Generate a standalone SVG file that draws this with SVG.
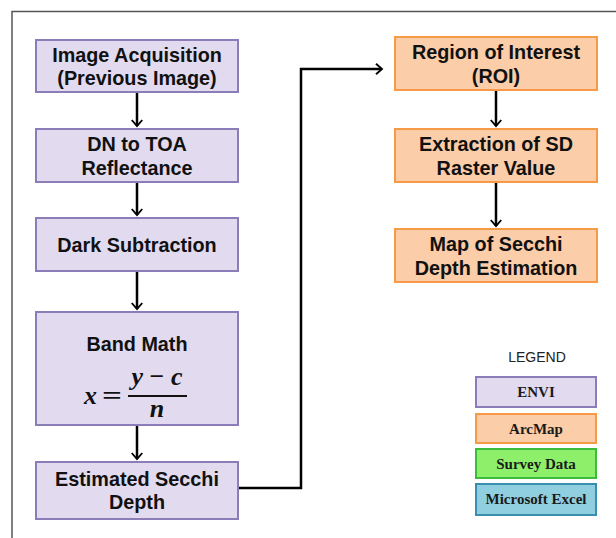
<svg xmlns="http://www.w3.org/2000/svg" width="616" height="538" viewBox="0 0 616 538">
<defs>
<style>
.envi{fill:#e2dbef;stroke:#8a7db8;stroke-width:2}
.arc{fill:#fbcda8;stroke:#f79a48;stroke-width:2}
.survey{fill:#8ef06a;stroke:#3cbc3c;stroke-width:2}
.excel{fill:#8fcfdf;stroke:#3a8fb0;stroke-width:2}
.t{font-family:"Liberation Sans",Arial,sans-serif;font-weight:bold;font-size:19.8px;fill:#111;text-anchor:middle}
.lg{font-family:"Liberation Serif","Times New Roman",serif;font-weight:bold;font-size:15px;fill:#1a1a1a;text-anchor:middle}
.m{font-family:"Liberation Serif","Times New Roman",serif;font-weight:bold;font-style:italic;font-size:26px;fill:#111}
.c{fill:none;stroke:#000;stroke-width:2.5}
</style>
<marker id="ah" markerWidth="12" markerHeight="12" viewBox="-10 -8 12 16" refX="0" refY="0" orient="auto" markerUnits="userSpaceOnUse">
<path d="M-8,-7 L0,0 L-8,7" fill="none" stroke="#000" stroke-width="2.5"/>
</marker>
</defs>
<rect width="616" height="538" fill="#fff"/>
<rect x="12" y="11.5" width="620" height="540" fill="none" stroke="#555" stroke-width="1.5"/>

<g id="connectors">
<line class="c" x1="137" y1="92" x2="137" y2="126" marker-end="url(#ah)"/>
<line class="c" x1="137" y1="182" x2="137" y2="215" marker-end="url(#ah)"/>
<line class="c" x1="137" y1="271" x2="137" y2="309" marker-end="url(#ah)"/>
<line class="c" x1="137" y1="425" x2="137" y2="459" marker-end="url(#ah)"/>
<polyline class="c" points="238,488 301,488 301,69 382,69" marker-end="url(#ah)"/>
<line class="c" x1="496" y1="90" x2="496" y2="126" marker-end="url(#ah)"/>
<line class="c" x1="496" y1="182" x2="496" y2="226" marker-end="url(#ah)"/>
</g>

<g id="image-acquisition">
<rect class="envi" x="36" y="40" width="202" height="52"/>
<text class="t" x="137" y="62">Image Acquisition</text>
<text class="t" x="137" y="85">(Previous Image)</text>
</g>
<g id="dn-to-toa">
<rect class="envi" x="36" y="129" width="202" height="53"/>
<text class="t" x="137" y="151">DN to TOA</text>
<text class="t" x="137" y="175">Reflectance</text>
</g>
<g id="dark-subtraction">
<rect class="envi" x="36" y="218" width="202" height="53"/>
<text class="t" x="137" y="252">Dark Subtraction</text>
</g>
<g id="band-math">
<rect class="envi" x="36" y="312" width="202" height="113"/>
<text class="t" x="137" y="351">Band Math</text>
<text class="m" x="84" y="404">x</text>
<text class="m" x="102" y="404" style="font-style:normal" textLength="20" lengthAdjust="spacingAndGlyphs">=</text>
<text class="m" x="157" y="385" text-anchor="middle">y <tspan style="font-style:normal">−</tspan> c</text>
<line x1="128" y1="396" x2="187" y2="396" stroke="#111" stroke-width="2"/>
<text class="m" x="157" y="417" text-anchor="middle">n</text>
</g>
<g id="estimated-secchi-depth">
<rect class="envi" x="36" y="462" width="202" height="57"/>
<text class="t" x="137" y="486">Estimated Secchi</text>
<text class="t" x="137" y="509">Depth</text>
</g>

<g id="region-of-interest">
<rect class="arc" x="395" y="37" width="202" height="53"/>
<text class="t" x="496" y="59">Region of Interest</text>
<text class="t" x="496" y="83">(ROI)</text>
</g>
<g id="extraction-sd">
<rect class="arc" x="395" y="129" width="202" height="53"/>
<text class="t" x="496" y="151">Extraction of SD</text>
<text class="t" x="496" y="175">Raster Value</text>
</g>
<g id="map-secchi">
<rect class="arc" x="395" y="229" width="202" height="53"/>
<text class="t" x="496" y="251">Map of Secchi</text>
<text class="t" x="496" y="275">Depth Estimation</text>
</g>

<g id="legend">
<text x="537" y="362" text-anchor="middle" font-family="'Liberation Sans',Arial,sans-serif" font-size="14" fill="#222">LEGEND</text>
<rect class="envi" x="476" y="377" width="120" height="30"/>
<text class="lg" x="536" y="397">ENVI</text>
<rect class="arc" x="476" y="414" width="120" height="29"/>
<text class="lg" x="536" y="434">ArcMap</text>
<rect class="survey" x="476" y="449" width="120" height="29"/>
<text class="lg" x="536" y="469">Survey Data</text>
<rect class="excel" x="476" y="484" width="120" height="31"/>
<text class="lg" x="536" y="504">Microsoft Excel</text>
</g>
</svg>
